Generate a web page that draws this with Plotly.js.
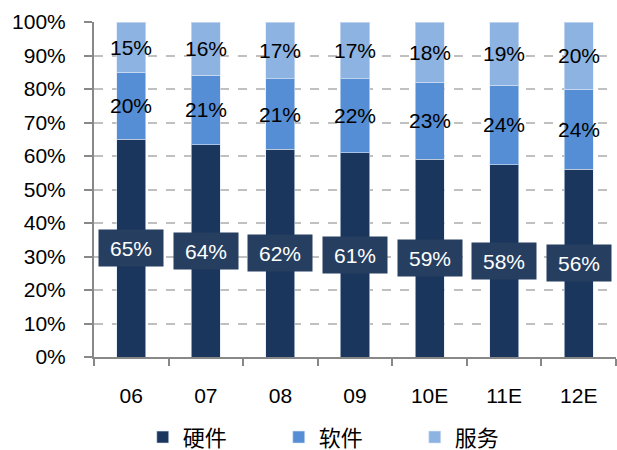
<!DOCTYPE html>
<html>
<head>
<meta charset="utf-8">
<script src="https://cdn.plot.ly/plotly-3.0.1.min.js"></script>
<style>html,body{margin:0;padding:0;background:#fff;}#chart{width:617px;height:450px;}</style>
</head>
<body>
<div id="chart"></div>
<script>
const categories = ["06", "07", "08", "09", "10E", "11E", "12E"];
const hardware = [65, 64, 62, 61, 59, 58, 56];
const software = [20, 21, 21, 22, 23, 24, 24];
const services = [15, 16, 17, 17, 18, 19, 20];
const seriesNames = ["硬件", "软件", "服务"];
const yTickVals = [0, 10, 20, 30, 40, 50, 60, 70, 80, 90, 100];
const yTickText = ["0%", "10%", "20%", "30%", "40%", "50%", "60%", "70%", "80%", "90%", "100%"];

const colors = ["#1b365d", "#558ed5", "#8db3e2"];
const fontFam = "Liberation Sans, Arial, Noto Sans CJK SC, sans-serif";

const totals = categories.map((c, i) => hardware[i] + software[i] + services[i]);
const norm = arr => arr.map((v, i) => v / totals[i] * 100);
const hwN = norm(hardware), swN = norm(software), svN = norm(services);

const lineStyle = {color: "rgba(220,230,245,0.6)", width: 1};
const traces = [
  {type: "bar", x: categories, y: hwN, name: seriesNames[0], marker: {color: colors[0], line: lineStyle}, hoverinfo: "none"},
  {type: "bar", x: categories, y: swN, name: seriesNames[1], marker: {color: colors[1], line: lineStyle}, hoverinfo: "none"},
  {type: "bar", x: categories, y: svN, name: seriesNames[2], marker: {color: colors[2], line: lineStyle}, hoverinfo: "none"}
];

const annotations = [];
categories.forEach((c, i) => {
  annotations.push({x: i, y: hwN[i] / 2, xref: "x", yref: "y", text: hardware[i] + "%", showarrow: false,
    font: {family: fontFam, size: 21, color: "#ffffff"}, bgcolor: "#263f61", borderpad: 5, width: 54, height: 26});
  annotations.push({x: i, y: hwN[i] + swN[i] / 2, xref: "x", yref: "y", text: software[i] + "%", showarrow: false,
    font: {family: fontFam, size: 21, color: "#000000"}});
  annotations.push({x: i, y: hwN[i] + swN[i] + svN[i] / 2, xref: "x", yref: "y", text: services[i] + "%", showarrow: false,
    font: {family: fontFam, size: 21, color: "#000000"}});
});

const layout = {
  width: 617, height: 450,
  margin: {l: 94, r: 1, t: 22, b: 93},
  paper_bgcolor: "#ffffff", plot_bgcolor: "#ffffff",
  barmode: "stack", bargap: 0.61,
  font: {family: fontFam, size: 20, color: "#000000"},
  showlegend: true,
  legend: {orientation: "h", x: 0.562, xanchor: "center", xref: "container", yref: "container", y: 0.075, yanchor: "top",
    font: {family: fontFam, size: 22, color: "#000000"}, entrywidth: 91, traceorder: "normal"},
  xaxis: {type: "category", range: [-0.5, 6.5], showline: true, linecolor: "#888888", linewidth: 2,
    ticks: "outside", tickson: "boundaries", ticklen: 7, tickcolor: "#888888", tickwidth: 2,
    ticklabelstandoff: 19, tickfont: {family: fontFam, size: 21, color: "#000000"}, showgrid: false},
  yaxis: {range: [0, 100], tickvals: yTickVals, ticktext: yTickText, showline: true, linecolor: "#888888", linewidth: 2,
    ticks: "outside", ticklen: 8, tickcolor: "#888888", tickwidth: 2, ticklabelstandoff: 14,
    tickfont: {family: fontFam, size: 21, color: "#000000"},
    showgrid: true, gridcolor: "#c0c0c0", gridwidth: 2, griddash: "dash", zeroline: false},
  annotations: annotations
};

Plotly.newPlot("chart", traces, layout, {displayModeBar: false, staticPlot: true});
</script>
</body>
</html>
